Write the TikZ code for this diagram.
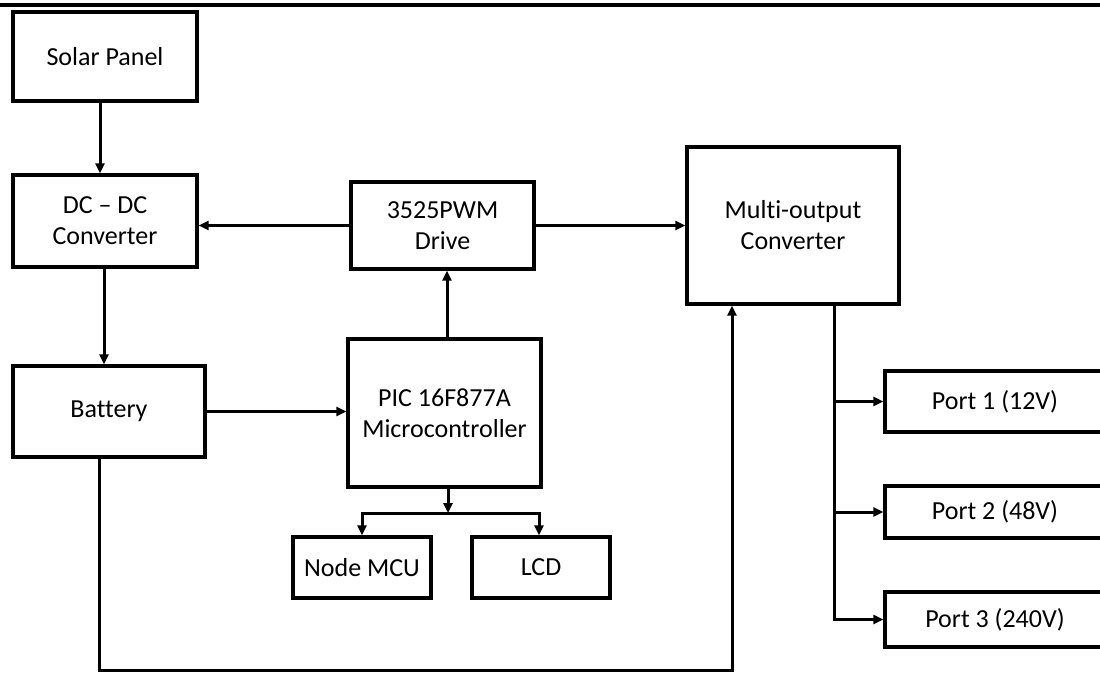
\documentclass[tikz,border=0pt]{standalone}
\usepackage{fontspec}
\setmainfont{Carlito}[Ligatures=NoCommon]
\usetikzlibrary{arrows.meta,calc}
\begin{document}
\begin{tikzpicture}[x=1pt,y=-1pt,
  blk/.style={draw=black,line width=3.2pt,inner sep=0pt,align=center,
    font=\fontsize{26}{31}\selectfont},
  arr/.style={line width=3pt,-{Triangle[length=10pt,width=9pt]}}]
\useasboundingbox (0,0) rectangle (1100,673);
\clip (0,0) rectangle (1100,673);
\fill[white] (0,0) rectangle (1100,673);
\draw[line width=3.8pt] (0,5) -- (1100,5);
% boxes
\node[blk,minimum width=184pt,minimum height=89pt] (solar) at (105,56.5) {Solar Panel};
\node[blk,minimum width=184pt,minimum height=92pt] (dcdc) at (105,221) {DC -- DC\\Converter};
\node[blk,minimum width=192pt,minimum height=91pt] (battery) at (109,411.5) {Battery};
\node[blk,minimum width=183pt,minimum height=87pt] (pwm) at (442.5,225.5) {3525PWM\\Drive};
\node[blk,minimum width=193pt,minimum height=148pt] (pic) at (444.5,413) {PIC 16F877A\\Microcontroller};
\node[blk,minimum width=138pt,minimum height=61pt] (nodemcu) at (362,567.5) {Node MCU};
\node[blk,minimum width=138pt,minimum height=61pt] (lcd) at (541,567.5) {LCD};
\node[blk,minimum width=212pt,minimum height=157pt] (multi) at (793,225.5) {Multi-output\\Converter};
\node[blk,minimum width=220pt,minimum height=61pt] (port1) at (995,401.5) {Port 1 (12V)};
\node[blk,minimum width=220pt,minimum height=52pt] (port2) at (995,512) {Port 2 (48V)};
\node[blk,minimum width=220pt,minimum height=55pt] (port3) at (995,619.5) {Port 3 (240V)};
% helper coordinates
\coordinate (sp) at (448,513);
\coordinate (bottomy) at (400,670);
% connectors
\draw[arr] ([xshift=-5pt]solar.south) -- ([xshift=-5pt]dcdc.north);
\draw[arr] ([xshift=-1pt]dcdc.south) -- ([xshift=-1pt]dcdc.south |- battery.north);
\draw[arr] (pwm.west) -- (pwm.west -| dcdc.east);
\draw[arr] (pwm.east) -- (pwm.east -| multi.west);
\draw[arr] (battery.east) -- (battery.east -| pic.west);
\draw[arr] ([xshift=2.5pt]pic.north) -- ([xshift=2.5pt]pic.north |- pwm.south);
\draw[arr] ([xshift=3.5pt]pic.south) -- (sp);
\draw[arr] (sp) -| (nodemcu.north);
\draw[arr] (sp) -| ([xshift=-2pt]lcd.north);
\draw[arr] ([xshift=-10pt]battery.south) |- (bottomy) -| ([xshift=-61pt]multi.south);
\draw[arr] ([xshift=41pt]multi.south) |- (port1.west);
\draw[arr] ([xshift=41pt]multi.south) |- (port2.west);
\draw[arr] ([xshift=41pt]multi.south) |- (port3.west);
\end{tikzpicture}
\end{document}
